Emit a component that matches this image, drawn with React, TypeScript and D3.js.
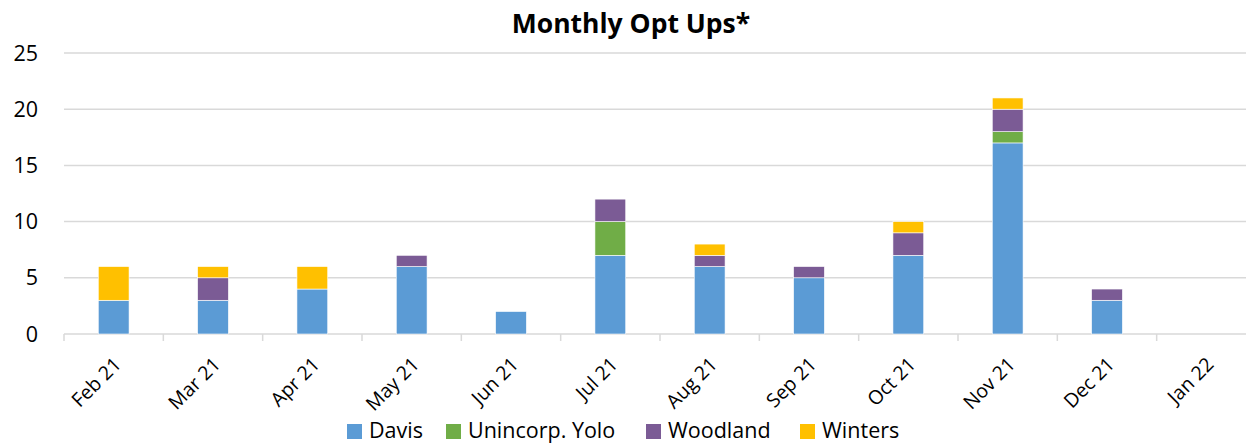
import React, { useEffect, useRef } from "react";
import { select, scaleBand, scaleLinear, stack } from "d3";

const months = ["Feb 21", "Mar 21", "Apr 21", "May 21", "Jun 21", "Jul 21", "Aug 21", "Sep 21", "Oct 21", "Nov 21", "Dec 21", "Jan 22"];
const seriesNames = ["Davis", "Unincorp. Yolo", "Woodland", "Winters"];
const davis = [3, 3, 4, 6, 2, 7, 6, 5, 7, 17, 3, 0];
const unincorpYolo = [0, 0, 0, 0, 0, 3, 0, 0, 0, 1, 0, 0];
const woodland = [0, 2, 0, 1, 0, 2, 1, 1, 2, 2, 1, 0];
const winters = [3, 1, 2, 0, 0, 0, 1, 0, 1, 1, 0, 0];
const yTicks = [0, 5, 10, 15, 20, 25];
const colors = ["#5B9BD5", "#70AD47", "#7B5B95", "#FFC000"];

const W = 1246;
const H = 445;
const margin = { top: 53, right: -10, bottom: 111, left: 64 };
const font = "'Open Sans', sans-serif";

export default function App() {
  const svgRef = useRef<SVGSVGElement | null>(null);

  useEffect(() => {
    const svg = select(svgRef.current);
    svg.selectAll("*").remove();

    const rows = months.map((m, i) => ({
      month: m,
      Davis: davis[i],
      "Unincorp. Yolo": unincorpYolo[i],
      Woodland: woodland[i],
      Winters: winters[i],
    }));

    const x = scaleBand().domain(months).range([margin.left, W - margin.right]).paddingInner(0.69).paddingOuter(0.345);
    const xOuter = scaleBand().domain(months).range([margin.left, W - margin.right]);
    const y = scaleLinear().domain([0, 25]).range([H - margin.bottom, margin.top]);

    // title
    svg
      .append("text")
      .attr("x", 631)
      .attr("y", 33)
      .attr("text-anchor", "middle")
      .attr("font-family", font)
      .attr("font-weight", "bold")
      .attr("font-size", 26.5)
      .text("Monthly Opt Ups*");

    // grid
    svg
      .append("g")
      .selectAll("line")
      .data(yTicks)
      .join("line")
      .attr("x1", margin.left)
      .attr("x2", W - margin.right)
      .attr("y1", (d) => y(d))
      .attr("y2", (d) => y(d))
      .attr("stroke", "#d9d9d9")
      .attr("stroke-width", 1.5);

    svg
      .append("g")
      .selectAll("text")
      .data(yTicks)
      .join("text")
      .attr("x", 38)
      .attr("y", (d) => y(d))
      .attr("dy", "0.35em")
      .attr("text-anchor", "end")
      .attr("font-family", font)
      .attr("font-size", 21.5)
      .attr("fill", "#000")
      .text((d) => d);

    // category ticks
    svg
      .append("g")
      .selectAll("line")
      .data(months)
      .join("line")
      .attr("x1", (d) => xOuter(d)!)
      .attr("x2", (d) => xOuter(d)!)
      .attr("y1", y(0))
      .attr("y2", y(0) + 7)
      .attr("stroke", "#d9d9d9")
      .attr("stroke-width", 1.5);

    const stacked = stack<any>().keys(seriesNames)(rows);

    svg
      .append("g")
      .selectAll("g")
      .data(stacked)
      .join("g")
      .attr("fill", (_, i) => colors[i])
      .selectAll("rect")
      .data((s) => s.filter((d) => d[1] - d[0] > 0))
      .join("rect")
      .attr("x", (d) => x(d.data.month)!)
      .attr("width", x.bandwidth())
      .attr("y", (d) => y(d[1]))
      .attr("height", (d) => y(d[0]) - y(d[1]))
      .attr("stroke", "#ffffff")
      .attr("stroke-width", 0.6);

    // x labels
    svg
      .append("g")
      .selectAll("text")
      .data(months)
      .join("text")
      .attr("transform", (d) => `translate(${xOuter(d)! + xOuter.bandwidth() / 2 - 1},${y(0) + 22}) rotate(-45)`)
      .attr("text-anchor", "end")
      .attr("dy", "0.7em")
      .attr("font-family", font)
      .attr("font-size", 19.5)
      .attr("fill", "#000")
      .text((d) => d);

    // legend
    const legendX = [347, 446, 646, 800];
    const lg = svg
      .append("g")
      .selectAll("g")
      .data(seriesNames)
      .join("g")
      .attr("transform", (_, i) => `translate(${legendX[i]},424)`);
    lg.append("rect").attr("width", 15).attr("height", 15).attr("fill", (_, i) => colors[i]);
    lg.append("text")
      .attr("x", 22)
      .attr("y", 14)
      .attr("font-family", font)
      .attr("font-size", 21.5)
      .attr("fill", "#000")
      .text((d) => d);
  }, []);

  return (
    <div>
      <svg ref={svgRef} width={W} height={H} style={{ position: "absolute", left: 0, top: 0, background: "#fff" }}></svg>
    </div>
  );
}
